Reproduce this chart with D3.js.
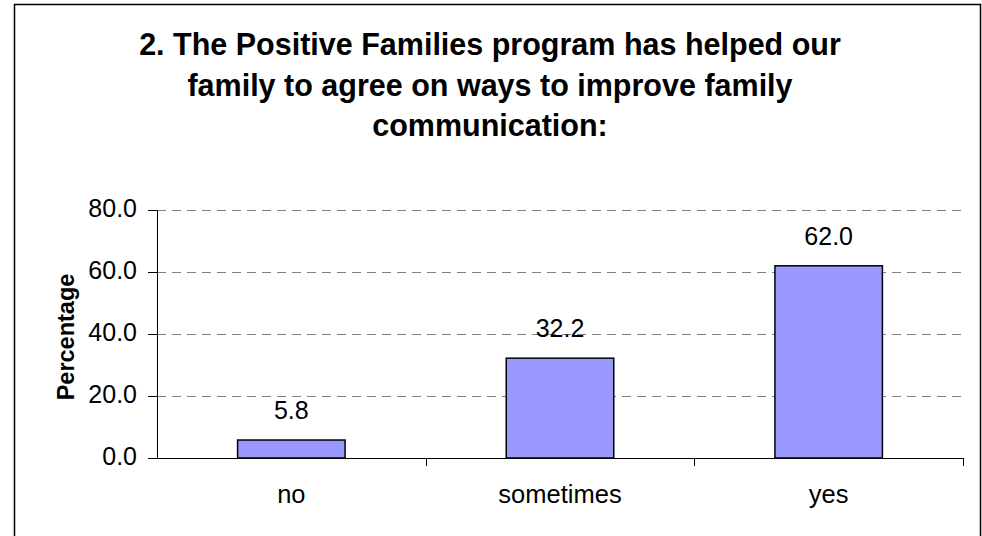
<!DOCTYPE html>
<html>
<head>
<meta charset="utf-8">
<script src="https://cdn.jsdelivr.net/npm/d3@7"></script>
<style>
  html, body { margin: 0; padding: 0; background: #fff; }
  svg { display: block; font-family: "Liberation Sans", Arial, sans-serif; }
</style>
</head>
<body>
<svg id="chart" width="982" height="536"></svg>
<script>
// Survey item and responses
const titleLines = [
  "2. The Positive Families program has helped our",
  "family to agree on ways to improve family",
  "communication:"
];
const categories = ["no", "sometimes", "yes"];
const percentages = [5.8, 32.2, 62.0];
const yTicks = [0, 20, 40, 60, 80];
const yAxisLabel = "Percentage";

const svg = d3.select("#chart");
const plot = { left: 157, right: 963, top: 210, bottom: 458 };

// Outer chart frame
svg.append("rect")
  .attr("x", 14.5).attr("y", 4.5)
  .attr("width", 966).attr("height", 560)
  .attr("fill", "#fff")
  .attr("stroke", "#000").attr("stroke-width", 1.5);

// Title
svg.append("text")
  .attr("text-anchor", "middle")
  .attr("font-weight", "bold")
  .attr("font-size", 30.5)
  .selectAll("tspan")
  .data(titleLines)
  .join("tspan")
  .attr("x", 490)
  .attr("y", (d, i) => 55 + i * 40.5)
  .text(d => d);

const x = d3.scaleBand()
  .domain(categories)
  .range([plot.left, plot.right])
  .paddingInner(0.6)
  .paddingOuter(0.3);

const y = d3.scaleLinear()
  .domain([0, 80])
  .range([plot.bottom, plot.top]);

// Dashed gridlines
svg.append("g")
  .selectAll("line")
  .data(yTicks.filter(d => d > 0))
  .join("line")
  .attr("x1", plot.left).attr("x2", plot.right)
  .attr("y1", d => y(d) + 0.5).attr("y2", d => y(d) + 0.5)
  .attr("stroke", "#808080")
  .attr("stroke-width", 1)
  .attr("stroke-dasharray", "9,6");

// Bars
svg.append("g")
  .selectAll("rect")
  .data(percentages)
  .join("rect")
  .attr("x", (d, i) => x(categories[i]))
  .attr("y", d => y(d))
  .attr("width", x.bandwidth())
  .attr("height", d => y(0) - y(d))
  .attr("fill", "#9999FF")
  .attr("stroke", "#000")
  .attr("stroke-width", 1.5);

// Value labels
svg.append("g")
  .attr("font-size", 25)
  .attr("text-anchor", "middle")
  .selectAll("text")
  .data(percentages)
  .join("text")
  .attr("x", (d, i) => x(categories[i]) + x.bandwidth() / 2)
  .attr("y", d => y(d) - 21)
  .text(d => d3.format(".1f")(d));

// Y axis
const yAxis = svg.append("g")
  .attr("transform", `translate(${plot.left},0)`)
  .call(d3.axisLeft(y).tickValues(yTicks).tickSize(9).tickPadding(11).tickFormat(d3.format(".1f")));
yAxis.select(".domain").attr("stroke", "#000").attr("stroke-width", 1);
yAxis.selectAll(".tick line").attr("stroke", "#000");
yAxis.selectAll(".tick text")
  .attr("font-size", 25)
  .attr("dy", "0.25em")
  .attr("font-family", "Liberation Sans, Arial, sans-serif")
  .attr("fill", "#000");

// X axis with ticks at category boundaries
const xAxisG = svg.append("g").attr("transform", `translate(0,${plot.bottom})`);
xAxisG.append("line")
  .attr("x1", plot.left).attr("x2", plot.right)
  .attr("y1", 0.5).attr("y2", 0.5)
  .attr("stroke", "#000");
const step = x.step();
const boundaries = categories.map((c, i) => plot.left + (i + 1) * step);
xAxisG.selectAll(".bound")
  .data(boundaries)
  .join("line")
  .attr("class", "bound")
  .attr("x1", d => Math.round(d) + 0.5).attr("x2", d => Math.round(d) + 0.5)
  .attr("y1", 0).attr("y2", 8)
  .attr("stroke", "#000");
xAxisG.selectAll(".cat")
  .data(categories)
  .join("text")
  .attr("class", "cat")
  .attr("x", d => x(d) + x.bandwidth() / 2)
  .attr("y", 45)
  .attr("text-anchor", "middle")
  .attr("font-size", 25.5)
  .text(d => d);

// Y axis title
svg.append("text")
  .attr("transform", `translate(74,${(plot.top + plot.bottom) / 2 + 3}) rotate(-90)`)
  .attr("text-anchor", "middle")
  .attr("font-weight", "bold")
  .attr("font-size", 23.5)
  .text(yAxisLabel);
</script>
</body>
</html>
